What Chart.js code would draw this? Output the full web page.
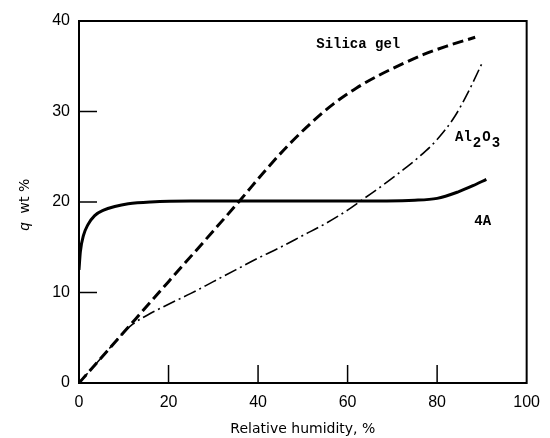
<!DOCTYPE html>
<html>
<head>
<meta charset="utf-8">
<script src="https://cdn.jsdelivr.net/npm/chart.js@4.4.0/dist/chart.umd.min.js"></script>
<style>
  html, body { margin: 0; padding: 0; background: #fff; }
  #wrap { width: 550px; height: 438px; }
</style>
</head>
<body>
<div id="wrap"><canvas id="chart"></canvas></div>
<script>
// relative humidity (%) vs loading q (wt %)
const humidity4A = [0, 0.3, 1, 2, 3.5, 5.5, 8, 11, 16, 25, 40, 60, 75, 80, 84.6, 88, 91];
const q4A = [12.5, 14.5, 16.3, 17.5, 18.5, 19.1, 19.5, 19.8, 20, 20.1, 20.1, 20.1, 20.2, 20.4, 21.1, 21.8, 22.5];

const humiditySilica = [0, 10, 20, 30, 36, 42, 47, 52, 57, 62, 67, 72, 77, 82, 88.5];
const qSilica = [0, 5.6, 11.2, 16.8, 20.2, 23.7, 26.4, 28.8, 30.9, 32.6, 34, 35.2, 36.3, 37.2, 38.2];

const humidityAl2O3 = [0, 5, 10, 12, 16, 20, 25, 30, 35, 40, 45, 50, 55, 60, 64, 68, 72, 76, 80, 84, 87, 90];
const qAl2O3 = [0, 2.8, 5.6, 6.5, 7.7, 8.7, 9.9, 11.2, 12.5, 13.8, 15, 16.3, 17.6, 19.1, 20.5, 21.9, 23.4, 25, 26.9, 29.5, 32.2, 35.3];

const xTicks = [0, 20, 40, 60, 80, 100];
const yTicks = [0, 10, 20, 30, 40];

// curve labels: [text, x, y]
const curveLabels = [
  ["Silica gel", 53, 37.4],
  ["Al2O3", 84, 27.1],
  ["4A", 88.3, 17.8]
];

function pairs(xs, ys) {
  return xs.map((x, i) => ({ x: x, y: ys[i] }));
}

const framePlugin = {
  id: "frame",
  afterDraw(chart) {
    const ctx = chart.ctx;
    const a = chart.chartArea;
    const xs = chart.scales.x, ys = chart.scales.y;
    ctx.save();
    ctx.strokeStyle = "#000";
    ctx.lineWidth = 2;
    ctx.strokeRect(a.left, a.top, a.right - a.left, a.bottom - a.top);

    // inward ticks
    ctx.lineWidth = 1.5;
    xTicks.slice(1, -1).forEach(v => {
      const px = xs.getPixelForValue(v);
      ctx.beginPath();
      ctx.moveTo(px, a.bottom);
      ctx.lineTo(px, a.bottom - 18);
      ctx.stroke();
    });
    yTicks.slice(0, -1).forEach(v => {
      const py = ys.getPixelForValue(v);
      ctx.beginPath();
      ctx.moveTo(a.left, py);
      ctx.lineTo(a.left + (v === 0 ? 13 : 18), py);
      ctx.stroke();
    });

    // curve labels
    ctx.fillStyle = "#000";
    ctx.textBaseline = "middle";
    ctx.textAlign = "left";
    ctx.font = "bold 14px 'Liberation Mono'";
    curveLabels.forEach(([t, x, y]) => {
      let px = xs.getPixelForValue(x);
      const py = ys.getPixelForValue(y);
      if (t === "Al2O3") {
        const parts = [["Al", 0], ["2", 6], ["O", 0], ["3", 6]];
        parts.forEach(([s, dy]) => {
          ctx.fillText(s, px, py + dy);
          px += ctx.measureText(s).width + 1;
        });
      } else {
        ctx.fillText(t, px, py);
      }
    });

    // y axis title, q in italic
    ctx.translate(25, ys.getPixelForValue(19.7));
    ctx.rotate(-Math.PI / 2);
    ctx.textAlign = "left";
    ctx.font = "italic 15px 'Liberation Sans'";
    const qW = ctx.measureText("q").width;
    ctx.font = "14px 'DejaVu Sans'";
    const restW = ctx.measureText("  wt %").width;
    let sx = -(qW + restW) / 2;
    ctx.font = "italic 15px 'Liberation Sans'";
    ctx.fillText("q", sx, 0);
    ctx.font = "14px 'DejaVu Sans'";
    ctx.fillText("  wt %", sx + qW, 0);
    ctx.restore();
  }
};

const lineBase = {
  showLine: true,
  pointRadius: 0,
  borderColor: "#000",
  backgroundColor: "#000",
  fill: false,
  cubicInterpolationMode: "monotone"
};

new Chart(document.getElementById("chart"), {
  type: "scatter",
  data: {
    datasets: [
      Object.assign({}, lineBase, {
        label: "4A",
        data: pairs(humidity4A, q4A),
        borderWidth: 3
      }),
      Object.assign({}, lineBase, {
        label: "Silica gel",
        data: pairs(humiditySilica, qSilica),
        borderWidth: 3,
        borderDash: [11, 5]
      }),
      Object.assign({}, lineBase, {
        label: "Al2O3",
        data: pairs(humidityAl2O3, qAl2O3),
        borderWidth: 1.6,
        borderDash: [13, 4, 2, 4]
      })
    ]
  },
  options: {
    responsive: true,
    maintainAspectRatio: false,
    animation: false,
    layout: { padding: { top: 21, right: 17, left: 0, bottom: 0 } },
    plugins: {
      legend: { display: false },
      tooltip: { enabled: false }
    },
    scales: {
      x: {
        type: "linear",
        min: 0,
        max: 100,
        afterBuildTicks: s => { s.ticks = xTicks.map(v => ({ value: v })); },
        afterFit: s => { s.height = 55; },
        grid: { display: false, drawTicks: false },
        border: { display: false },
        ticks: {
          color: "#000",
          padding: 10,
          font: { family: "'Liberation Sans'", size: 16 }
        },
        title: {
          display: true,
          text: "Relative humidity, %",
          color: "#000",
          padding: { top: 0, bottom: 0 },
          font: { family: "'DejaVu Sans'", size: 14 }
        }
      },
      y: {
        type: "linear",
        min: 0,
        max: 40,
        afterBuildTicks: s => { s.ticks = yTicks.map(v => ({ value: v })); },
        afterFit: s => { s.width = 79; },
        grid: { display: false, drawTicks: false },
        border: { display: false },
        ticks: {
          color: "#000",
          padding: 9,
          font: { family: "'Liberation Sans'", size: 16 }
        }
      }
    }
  },
  plugins: [framePlugin]
});
</script>
</body>
</html>
